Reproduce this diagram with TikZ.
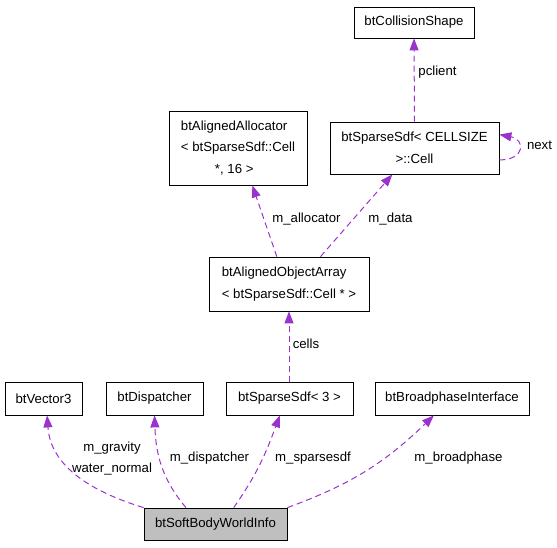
\documentclass[tikz,border=0pt]{standalone}
\usepackage{fontspec}
\setmainfont{Liberation Sans}
\usetikzlibrary{arrows.meta}
\definecolor{relpurple}{HTML}{9A32CD}
\definecolor{maingray}{HTML}{BFBFBF}
\begin{document}
\begin{tikzpicture}[x=1pt,y=-1pt,
    cls/.style={draw,line width=0.8pt,inner sep=0pt,align=center,font=\fontsize{13.2}{21.5}\selectfont},
    rel/.style={draw=relpurple,line width=1pt,dash pattern=on 6pt off 4pt,-{Triangle[length=12pt,width=9pt]}},
    lbl/.style={inner sep=0pt,align=center,font=\fontsize{13.2}{21}\selectfont}]
    \useasboundingbox (0,0) rectangle (557,547);
    \node (shape) at (414,22.5) [cls,minimum width=120,minimum height=31] {btCollisionShape};
    \node (cell) at (414.5,148) [cls,minimum width=169,minimum height=52] {btSparseSdf< CELLSIZE\\>::Cell};
    \node (alloc) at (238,148) [cls,minimum width=138,minimum height=74,align=left] {btAlignedAllocator\\< btSparseSdf::Cell\\\hspace*{34pt}*, 16 >};
    \node (aoa) at (289,284) [cls,minimum width=160,minimum height=54,align=left] {btAlignedObjectArray\\< btSparseSdf::Cell * >};
    \node (vec) at (43.5,398.5) [cls,minimum width=77,minimum height=33] {btVector3};
    \node (disp) at (154.5,398.5) [cls,minimum width=97,minimum height=33] {btDispatcher};
    \node (ss3) at (289.5,398.5) [cls,minimum width=127,minimum height=33] {btSparseSdf< 3 >};
    \node (bp) at (452,398.5) [cls,minimum width=154,minimum height=33] {btBroadphaseInterface};
    \node (info) at (215.5,524) [cls,fill=maingray,minimum width=143,minimum height=32] {btSoftBodyWorldInfo};

    % members of btSoftBodyWorldInfo
    \draw[rel] (info.north west) to[out=163,in=-86] (vec.-78);
    \draw[rel] (info.151) to[out=130,in=-88] (disp.south);
    \draw[rel] (info.42) to[out=55,in=-110] (ss3.-120);
    \draw[rel] (info.north east) to[out=20,in=-136] (bp.-137);
    \node (lgrav) at (112,458.5) [lbl] {m\_gravity\\water\_normal};
    \node (ldisp) at (209.5,458) [lbl] {m\_dispatcher};
    \node (lss3) at (313,458) [lbl] {m\_sparsesdf};
    \node (lbp) at (458.5,458) [lbl] {m\_broadphase};

    % the cell array
    \draw[rel] (aoa.south |- ss3.north) -- (aoa.south);
    \node (lcells) at (306,344) [lbl] {cells};
    \draw[rel] (aoa.114) -- (alloc.-69);
    \draw[rel] (aoa.41) -- (cell.-130);
    \node (lalloc) at (306.5,219) [lbl] {m\_allocator};
    \node (ldata) at (390.5,219) [lbl] {m\_data};

    % cell links
    \draw[rel] (cell.north) -- (shape.south);
    \node (lpcl) at (437.5,72) [lbl] {pclient};
    \draw[rel] (cell.-8) .. controls +(26,0) and +(26,5) .. (cell.9);
    \node (lnext) at (539.5,145) [lbl] {next};
\end{tikzpicture}
\end{document}
